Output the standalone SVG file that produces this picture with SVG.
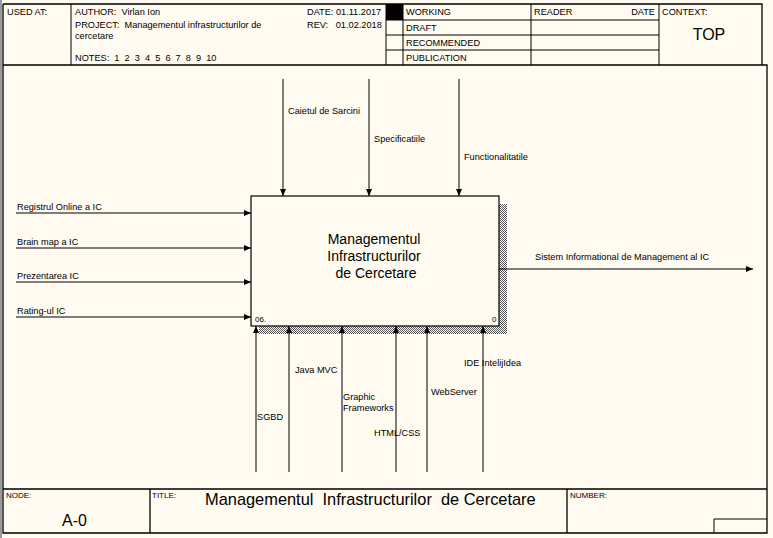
<svg xmlns="http://www.w3.org/2000/svg" width="773" height="538" viewBox="0 0 773 538">
<defs>
<style>
.t{font-family:"Liberation Sans",Arial,sans-serif;font-size:9.2px;fill:#000}
.s{font-family:"Liberation Sans",Arial,sans-serif;font-size:8px;fill:#000}
.b{font-family:"Liberation Sans",Arial,sans-serif;font-size:14px;fill:#000}
.l{font-family:"Liberation Sans",Arial,sans-serif;font-size:16px;fill:#000}
.f{stroke:#000;stroke-width:1.3;fill:none}
.c{stroke:#000;stroke-width:1;fill:none}
</style>
<pattern id="hatch" width="2" height="2" patternUnits="userSpaceOnUse">
<rect width="2" height="2" fill="#fff"/>
<rect width="1" height="1" fill="#555"/>
<rect x="1" y="1" width="1" height="1" fill="#555"/>
</pattern>
<marker id="ah" markerUnits="userSpaceOnUse" markerWidth="8" markerHeight="6" refX="7" refY="3" orient="auto">
<path d="M0,0 L7,3 L0,6 Z" fill="#000"/>
</marker>
</defs>
<rect width="773" height="538" fill="#fffbf0"/>
<rect x="0" y="0" width="2" height="538" fill="#9a9a9a"/>
<g id="frame">
<path class="f" d="M3,4 H762 V65 M3,4 V533 H767 V65 H3"/>
<path class="c" d="M71,4 V65 M386,4 V65 M403,4 V65 M531,4 V65 M659,4 V65 M386,20 H659 M386,35 H659 M386,50 H659"/>
<rect x="386" y="4" width="17" height="16" fill="#000"/>
<path class="f" d="M3,489 H767 M150,489 V533 M567,489 V533"/>
<path class="c" d="M714,533 V519 H767"/>
</g>
<g id="header">
<text class="t" x="7" y="15">USED AT:</text>
<text class="t" x="75" y="15" xml:space="preserve">AUTHOR:  Virlan Ion</text>
<text class="t" x="75" y="28" xml:space="preserve">PROJECT:  Managementul infrastructurilor de</text>
<text class="t" x="75" y="39">cercetare</text>
<text class="t" x="75" y="61" xml:space="preserve">NOTES:  1  2  3  4  5  6  7  8  9  10</text>
<text class="t" x="307" y="15">DATE: 01.11.2017</text>
<text class="t" x="307" y="28" xml:space="preserve">REV:   01.02.2018</text>
<text class="t" x="406" y="15">WORKING</text>
<text class="t" x="406" y="31">DRAFT</text>
<text class="t" x="406" y="46">RECOMMENDED</text>
<text class="t" x="406" y="61">PUBLICATION</text>
<text class="t" x="534" y="15">READER</text>
<text class="t" x="655" y="15" text-anchor="end">DATE</text>
<text class="t" x="662" y="15">CONTEXT:</text>
<text class="l" x="709" y="40" text-anchor="middle">TOP</text>
</g>
<g id="footer">
<text class="s" x="6" y="498">NODE:</text>
<text class="l" x="62" y="526">A-0</text>
<text class="s" x="152" y="498">TITLE:</text>
<text class="l" x="205" y="505" style="font-size:16.4px" xml:space="preserve">Managementul  Infrastructurilor  de Cercetare</text>
<text class="s" x="570" y="498">NUMBER:</text>
</g>
<g id="node-A0">
<rect x="259" y="204" width="248" height="130" fill="url(#hatch)"/>
<rect x="251" y="196" width="248" height="130" fill="#fffbf0" stroke="#000" stroke-width="1.2"/>
<text class="b" x="374" y="244" text-anchor="middle">Managementul</text>
<text class="b" x="374" y="261" text-anchor="middle">Infrastructurilor</text>
<text class="b" x="376" y="278" text-anchor="middle">de Cercetare</text>
<text class="s" x="255" y="322">06.</text>
<text class="s" x="492" y="322">0</text>
</g>
<g id="connectors">
<path class="c" marker-end="url(#ah)" d="M16,213 H251"/>
<path class="c" marker-end="url(#ah)" d="M16,248 H251"/>
<path class="c" marker-end="url(#ah)" d="M16,282 H251"/>
<path class="c" marker-end="url(#ah)" d="M16,317 H251"/>
<path class="c" marker-end="url(#ah)" d="M283,79 V196"/>
<path class="c" marker-end="url(#ah)" d="M369,79 V196"/>
<path class="c" marker-end="url(#ah)" d="M459,79 V196"/>
<path class="c" marker-end="url(#ah)" d="M256,472 V326"/>
<path class="c" marker-end="url(#ah)" d="M289,472 V326"/>
<path class="c" marker-end="url(#ah)" d="M342,472 V326"/>
<path class="c" marker-end="url(#ah)" d="M396,472 V326"/>
<path class="c" marker-end="url(#ah)" d="M427,472 V326"/>
<path class="c" marker-end="url(#ah)" d="M483,472 V326"/>
<path class="c" marker-end="url(#ah)" d="M499,269 H753"/>
<text class="t" x="17" y="210">Registrul Online a IC</text>
<text class="t" x="17" y="245">Brain map a IC</text>
<text class="t" x="17" y="279">Prezentarea IC</text>
<text class="t" x="17" y="314">Rating-ul IC</text>
<text class="t" x="288" y="114">Caietul de Sarcini</text>
<text class="t" x="374" y="142">Specificatiile</text>
<text class="t" x="464" y="160">Functionalitatile</text>
<text class="t" x="257" y="420">SGBD</text>
<text class="t" x="295" y="373">Java MVC</text>
<text class="t" x="343" y="400">Graphic</text>
<text class="t" x="343" y="411">Frameworks</text>
<text class="t" x="374" y="436">HTML/CSS</text>
<text class="t" x="431" y="395">WebServer</text>
<text class="t" x="464" y="366">IDE IntelijIdea</text>
<text class="t" x="535" y="260">Sistem Informational de Management al IC</text>
</g>
</svg>
